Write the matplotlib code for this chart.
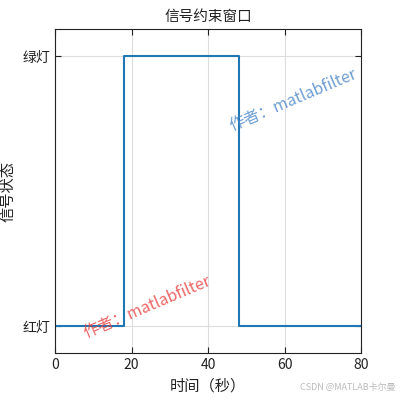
import matplotlib.pyplot as plt
import numpy as np

plt.rcParams['font.family'] = ['Noto Sans CJK SC', 'DejaVu Sans']

# signal state: 0 = red, 1 = green
t = [0, 18, 48, 80]
state = [0, 1, 0, 0]
yticks = [0, 1]
ylabels = ['红灯', '绿灯']

fig = plt.figure(figsize=(4, 4), dpi=100)
ax = fig.add_axes([0.1375, 0.1175, 0.765, 0.81])

ax.step(t, state, where='post', color='#1f77b4', lw=1.5)

ax.set_xlim(0, 80)
ax.set_ylim(-0.1, 1.1)
ax.set_xticks([0, 20, 40, 60, 80])
ax.set_yticks(yticks)
ax.set_yticklabels(ylabels)
ax.tick_params(direction='in', labelsize=10, length=4, top=True, right=True, colors='#222222')
ax.grid(True, color='#dddddd', lw=0.8)
for s in ax.spines.values():
    s.set_color('#222222')

ax.set_title('信号约束窗口', fontsize=10.5, color='#222222')
ax.set_xlabel('时间（秒）', fontsize=11, color='#222222')
ax.set_ylabel('信号状态', fontsize=11, color='#222222')

# watermarks
ax.text(0.78, 0.78, '作者：matlabfilter', transform=ax.transAxes, fontsize=11.5,
        color='#4a86c8', alpha=0.8, rotation=23, ha='center', va='center')
ax.text(0.30, 0.14, '作者：matlabfilter', transform=ax.transAxes, fontsize=11.5,
        color='#e84040', alpha=0.8, rotation=23, ha='center', va='center')
fig.text(0.99, 0.02, 'CSDN @MATLAB卡尔曼', fontsize=6.5, color='#bbbbbb', ha='right', va='bottom')

fig.savefig('out.png', dpi=100)
